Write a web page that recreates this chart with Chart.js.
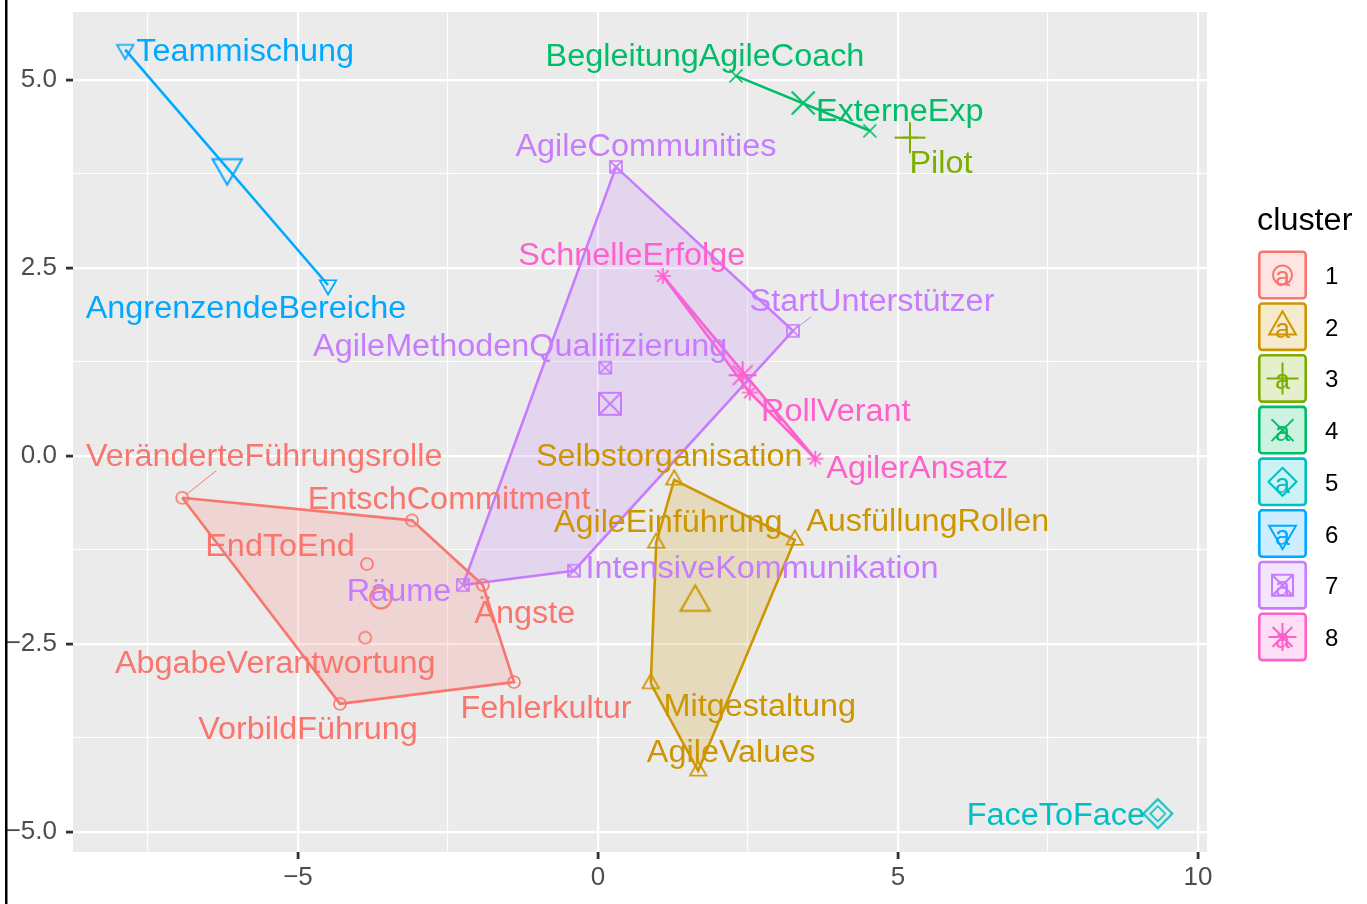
<!DOCTYPE html>
<html>
<head>
<meta charset="utf-8">
<script src="https://cdn.jsdelivr.net/npm/chart.js@4/dist/chart.umd.min.js"></script>
<style>
  html, body { margin: 0; padding: 0; background: #fff; }
</style>
</head>
<body>
<canvas id="chart" width="1367" height="904"></canvas>
<script>
const FONT = '"Liberation Sans", Arial, Helvetica, sans-serif';

const clusterIds = ['1', '2', '3', '4', '5', '6', '7', '8'];
const clusterColors = ['#F8766D', '#CD9600', '#7CAE00', '#00BE67', '#00BFC4', '#00A9FF', '#C77CFF', '#FF61CC'];
const clusterShapes = ['circle', 'triangle', 'plus', 'cross', 'diamond', 'triangleDown', 'squareCross', 'asterisk'];

// items of the MDS map
const names = [
  'VeränderteFührungsrolle', 'EntschCommitment', 'EndToEnd', 'Ängste', 'AbgabeVerantwortung', 'Fehlerkultur', 'VorbildFührung',
  'Selbstorganisation', 'AusfüllungRollen', 'AgileEinführung', 'Mitgestaltung', 'AgileValues',
  'Pilot',
  'BegleitungAgileCoach', 'ExterneExp',
  'FaceToFace',
  'Teammischung', 'AngrenzendeBereiche',
  'AgileCommunities', 'StartUnterstützer', 'AgileMethodenQualifizierung', 'IntensiveKommunikation', 'Räume',
  'SchnelleErfolge', 'RollVerant', 'AgilerAnsatz'
];
const cluster = [1, 1, 1, 1, 1, 1, 1, 2, 2, 2, 2, 2, 3, 4, 4, 5, 6, 6, 7, 7, 7, 7, 7, 8, 8, 8];
const dim1 = [-6.93, -3.10, -3.85, -1.92, -3.88, -1.40, -4.30, 1.27, 3.28, 0.97, 0.88, 1.67, 5.20, 2.30, 4.53, 9.33, -7.88, -4.50, 0.30, 3.25, 0.12, -0.40, -2.25, 1.08, 2.53, 3.62];
const dim2 = [-0.56, -0.86, -1.44, -1.72, -2.42, -3.01, -3.30, -0.32, -1.12, -1.16, -3.03, -4.19, 4.23, 5.05, 4.32, -4.76, 5.40, 2.27, 3.84, 1.66, 1.17, -1.53, -1.72, 2.39, 0.84, -0.04];

// cluster centres
const centerX = [-3.62, 1.62, 5.20, 3.42, 9.33, -6.18, 0.20, 2.41];
const centerY = [-1.89, -1.95, 4.23, 4.69, -4.76, 3.83, 0.69, 1.07];

// axis breaks
const xMajor = [-5, 0, 5, 10];
const xMajorLabels = ['\u22125', '0', '5', '10'];
const xMinor = [-7.5, -2.5, 2.5, 7.5];
const yMajor = [-5, -2.5, 0, 2.5, 5];
const yMajorLabels = ['\u22125.0', '\u22122.5', '0.0', '2.5', '5.0'];
const yMinor = [-3.75, -1.25, 1.25, 3.75];
const xLimits = [-8.75, 10.15];
const yLimits = [-5.27, 5.9];

// repelled label placement (pixel offsets from the point)
const labelDx = [82, 37, -87, 42, -90, 32, -32, -5, 133, 12, 109, 33, 31, -31, 30, -102, 120, -82, 30, 79, -85, 188, -64, -31, 86, 102];
const labelDy = [-43, -22, -19, 27, 24, 25, 24, -25, -20, -22, 21, -20, 24, -21, -21, 0, 0, 22, -22, -31, -23, -4, 5, -22, 17, 8];
const leaderEnds = { 'VeränderteFührungsrolle': [34, -27], 'StartUnterstützer': [18, -14] };

const smallSize = { circle: 6, triangle: 9.5, plus: 8, cross: 6.5, diamond: 7.5, triangleDown: 9.5, squareCross: 6, asterisk: 8 };
const largeSize = { circle: 10.5, triangle: 17, plus: 15.5, cross: 11.5, diamond: 14.5, triangleDown: 17, squareCross: 11, asterisk: 14 };
const keySize = { circle: 9.5, triangle: 15.5, plus: 16, cross: 11, diamond: 14, triangleDown: 15.5, squareCross: 10.5, asterisk: 14 };

function rgba(hex, a) {
  const n = parseInt(hex.slice(1), 16);
  return `rgba(${(n >> 16) & 255},${(n >> 8) & 255},${n & 255},${a})`;
}

function drawGlyph(ctx, shape, cx, cy, r, color, lw) {
  const d = r * Math.SQRT1_2;
  ctx.save();
  ctx.strokeStyle = color;
  ctx.lineWidth = lw;
  ctx.beginPath();
  switch (shape) {
    case 'circle':
      ctx.arc(cx, cy, r, 0, Math.PI * 2);
      break;
    case 'triangle':
    case 'triangleDown': {
      const s = shape === 'triangle' ? 1 : -1;
      ctx.moveTo(cx, cy - s * r);
      ctx.lineTo(cx + r * 0.866, cy + s * r / 2);
      ctx.lineTo(cx - r * 0.866, cy + s * r / 2);
      ctx.closePath();
      break;
    }
    case 'plus':
      ctx.moveTo(cx - r, cy); ctx.lineTo(cx + r, cy);
      ctx.moveTo(cx, cy - r); ctx.lineTo(cx, cy + r);
      break;
    case 'cross':
      ctx.moveTo(cx - r, cy - r); ctx.lineTo(cx + r, cy + r);
      ctx.moveTo(cx - r, cy + r); ctx.lineTo(cx + r, cy - r);
      break;
    case 'diamond':
      ctx.moveTo(cx, cy - r); ctx.lineTo(cx + r, cy);
      ctx.lineTo(cx, cy + r); ctx.lineTo(cx - r, cy);
      ctx.closePath();
      break;
    case 'squareCross':
      ctx.rect(cx - r, cy - r, 2 * r, 2 * r);
      ctx.moveTo(cx - r, cy - r); ctx.lineTo(cx + r, cy + r);
      ctx.moveTo(cx - r, cy + r); ctx.lineTo(cx + r, cy - r);
      break;
    case 'asterisk':
      ctx.moveTo(cx - r, cy); ctx.lineTo(cx + r, cy);
      ctx.moveTo(cx, cy - r); ctx.lineTo(cx, cy + r);
      ctx.moveTo(cx - d, cy - d); ctx.lineTo(cx + d, cy + d);
      ctx.moveTo(cx - d, cy + d); ctx.lineTo(cx + d, cy - d);
      break;
  }
  ctx.stroke();
  ctx.restore();
}

function glyphImage(shape, r, color, lw) {
  let size = Math.ceil(2 * r + 2 * lw + 4);
  if (size % 2) size++;
  const c = document.createElement('canvas');
  c.width = size;
  c.height = size;
  drawGlyph(c.getContext('2d'), shape, size / 2, size / 2, r, color, lw);
  return c;
}

// monotone chain convex hull, returned closed
function hull(pts) {
  if (pts.length < 3) return pts.slice();
  const p = pts.slice().sort((a, b) => a.x - b.x || a.y - b.y);
  const cross = (o, a, b) => (a.x - o.x) * (b.y - o.y) - (a.y - o.y) * (b.x - o.x);
  const lower = [], upper = [];
  p.forEach(q => {
    while (lower.length >= 2 && cross(lower[lower.length - 2], lower[lower.length - 1], q) <= 0) lower.pop();
    lower.push(q);
  });
  p.slice().reverse().forEach(q => {
    while (upper.length >= 2 && cross(upper[upper.length - 2], upper[upper.length - 1], q) <= 0) upper.pop();
    upper.push(q);
  });
  const h = lower.slice(0, -1).concat(upper.slice(0, -1));
  h.push(h[0]);
  return h;
}

const datasets = [];
clusterIds.forEach((id, k) => {
  const col = clusterColors[k];
  const shape = clusterShapes[k];
  const pts = [];
  names.forEach((n, i) => { if (cluster[i] === k + 1) pts.push({ x: dim1[i], y: dim2[i] }); });

  if (pts.length > 1) {
    datasets.push({
      label: 'hull' + id,
      data: hull(pts),
      showLine: true,
      tension: 0,
      borderColor: col,
      borderWidth: 2.6,
      backgroundColor: rgba(col, 0.2),
      fill: pts.length > 2 ? 'shape' : false,
      pointRadius: 0,
      order: 3
    });
  }
  datasets.push({
    label: 'items' + id,
    data: pts,
    pointStyle: glyphImage(shape, smallSize[shape], col, 1.7),
    pointRadius: 6,
    order: 2
  });
  datasets.push({
    label: 'centre' + id,
    data: [{ x: centerX[k], y: centerY[k] }],
    pointStyle: glyphImage(shape, largeSize[shape], col, 2),
    pointRadius: 10,
    order: 1
  });
});

const near = (a, b) => Math.abs(a - b) < 1e-9;

function axisOptions(major, majorLabels, minor, limits, horizontal) {
  const breaks = major.concat(minor).sort((a, b) => a - b);
  const isMajor = v => major.some(m => near(m, v));
  return {
    type: 'linear',
    min: limits[0],
    max: limits[1],
    afterBuildTicks: s => { s.ticks = breaks.map(v => ({ value: v })); },
    afterFit: s => {
      if (horizontal) {
        s.height = 52;
        s.paddingLeft = 0;
        s.paddingRight = 0;
      } else {
        s.width = 73;
        s.paddingTop = 0;
        s.paddingBottom = 0;
      }
    },
    border: { display: false },
    grid: {
      color: '#FFFFFF',
      lineWidth: c => (c.tick && isMajor(c.tick.value) ? 2.2 : 1.1),
      tickLength: 7,
      tickWidth: 2.8,
      tickColor: c => (c.tick && isMajor(c.tick.value) ? '#333333' : 'rgba(0,0,0,0)')
    },
    ticks: {
      autoSkip: false,
      maxRotation: 0,
      padding: horizontal ? 6 : 9,
      color: '#4D4D4D',
      font: { family: FONT, size: 26, lineHeight: 1 },
      callback: v => {
        const j = major.findIndex(m => near(m, v));
        return j >= 0 ? majorLabels[j] : '';
      }
    }
  };
}

const panelBackground = {
  id: 'panelBackground',
  beforeDraw(chart) {
    const { ctx, chartArea: a } = chart;
    ctx.save();
    ctx.fillStyle = '#EBEBEB';
    ctx.fillRect(a.left, a.top, a.right - a.left, a.bottom - a.top);
    ctx.restore();
  }
};

const textLabels = {
  id: 'textLabels',
  afterDatasetsDraw(chart) {
    const { ctx } = chart;
    const xs = chart.scales.x, ys = chart.scales.y;
    ctx.save();
    ctx.font = `31px ${FONT}`;
    ctx.textAlign = 'center';
    ctx.textBaseline = 'alphabetic';
    names.forEach((name, i) => {
      const col = clusterColors[cluster[i] - 1];
      const px = xs.getPixelForValue(dim1[i]);
      const py = ys.getPixelForValue(dim2[i]);
      const lead = leaderEnds[name];
      if (lead) {
        const len = Math.hypot(lead[0], lead[1]);
        ctx.strokeStyle = col;
        ctx.lineWidth = 1;
        ctx.beginPath();
        ctx.moveTo(px + lead[0] / len * 5, py + lead[1] / len * 5);
        ctx.lineTo(px + lead[0], py + lead[1]);
        ctx.stroke();
      }
      ctx.fillStyle = col;
      ctx.save();
      ctx.translate(px + labelDx[i], py + labelDy[i] + 11);
      ctx.scale(1.045, 1);
      ctx.fillText(name, 0, 0);
      ctx.restore();
    });
    ctx.restore();
  }
};

const clusterLegend = {
  id: 'clusterLegend',
  afterDraw(chart) {
    const { ctx, chartArea: a } = chart;
    const left = a.right + 51;
    ctx.save();
    ctx.fillStyle = '#000';
    ctx.font = `31px ${FONT}`;
    ctx.textAlign = 'left';
    ctx.textBaseline = 'alphabetic';
    ctx.save();
    ctx.translate(left - 1, 230);
    ctx.scale(1.045, 1);
    ctx.fillText('cluster', 0, 0);
    ctx.restore();

    clusterIds.forEach((id, k) => {
      const col = clusterColors[k];
      const shape = clusterShapes[k];
      const top = 250.5 + k * 51.7;
      const cx = left + 24.5, cy = top + 24.5;
      ctx.fillStyle = '#FFFFFF';
      ctx.fillRect(left, top, 49, 49);
      ctx.fillStyle = rgba(col, 0.2);
      ctx.strokeStyle = col;
      ctx.lineWidth = 2.6;
      ctx.beginPath();
      ctx.roundRect(left + 1.3, top + 1.3, 46.4, 46.4, 3);
      ctx.fill();
      ctx.stroke();
      drawGlyph(ctx, shape, cx, cy, keySize[shape], col, 2);
      ctx.fillStyle = col;
      ctx.font = `27px ${FONT}`;
      ctx.textAlign = 'center';
      ctx.fillText('a', cx, cy + 11);
      ctx.fillStyle = '#000';
      ctx.font = `24px ${FONT}`;
      ctx.textAlign = 'left';
      ctx.fillText(id, left + 67, cy + 9);
    });

    // frame line along the left edge
    ctx.fillStyle = '#000';
    ctx.fillRect(5, 0, 2.5, chart.height);
    ctx.restore();
  }
};

new Chart(document.getElementById('chart'), {
  type: 'scatter',
  data: { datasets: datasets },
  options: {
    responsive: false,
    animation: false,
    events: [],
    layout: { padding: { top: 12, right: 160, bottom: 0, left: 0 } },
    plugins: {
      legend: { display: false },
      tooltip: { enabled: false }
    },
    scales: {
      x: axisOptions(xMajor, xMajorLabels, xMinor, xLimits, true),
      y: axisOptions(yMajor, yMajorLabels, yMinor, yLimits, false)
    }
  },
  plugins: [panelBackground, textLabels, clusterLegend]
});
</script>
</body>
</html>
